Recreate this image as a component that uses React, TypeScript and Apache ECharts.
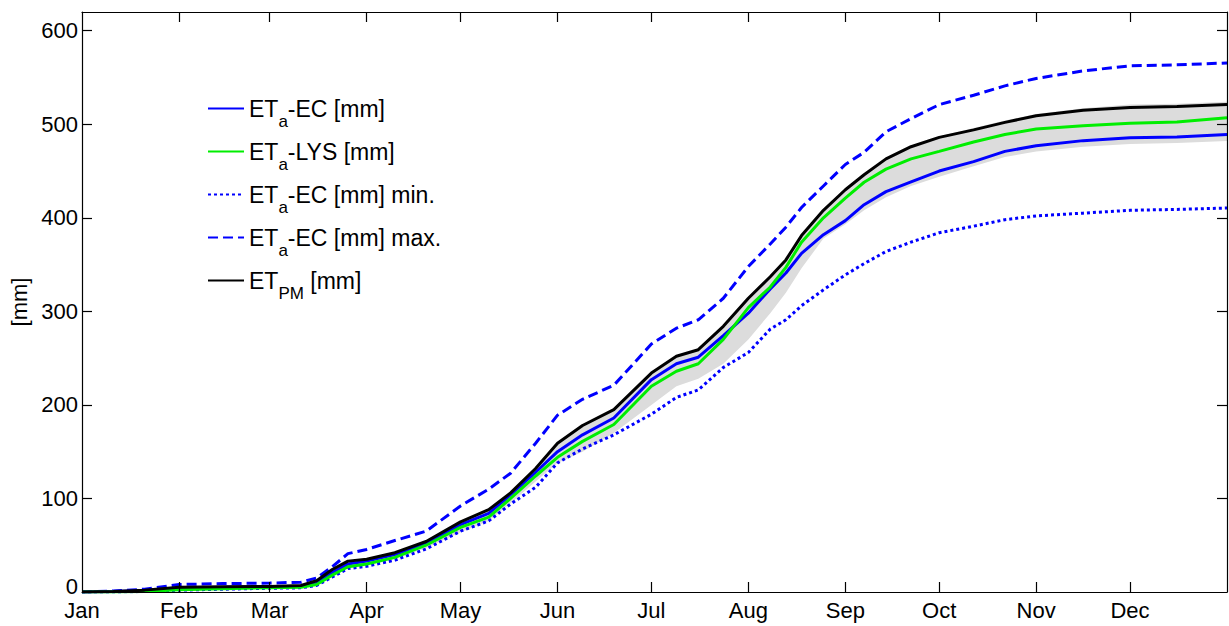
import React, { useEffect, useRef } from 'react';
import * as echarts from 'echarts';

// Day of year (leap year, 0 = 1 Jan)
const days = [0, 10, 20, 31, 45, 60, 70, 75, 80, 85, 91, 100, 110, 121, 130, 137, 145, 152, 160, 170, 182, 190, 197, 205, 213, 220, 225, 230, 237, 244, 250, 257, 265, 274, 285, 295, 305, 320, 335, 350, 366];

const etPM = [0, 0.5, 2, 5, 5.5, 6, 7, 12, 24, 33, 35, 42, 54, 75, 88, 106, 132, 159, 178, 195, 234, 252, 259, 284, 314, 337, 355, 381, 408, 430, 446, 463, 476, 486, 494, 502, 509, 515, 518, 519, 521];
const etLYS = [0, 0, 0.5, 2.5, 3.5, 4.5, 5, 8, 18, 27, 30, 37, 50, 69, 80, 100, 124, 144, 161, 179, 220, 236, 244, 270, 304, 326, 347, 374, 400, 421, 438, 452, 463, 471, 481, 489, 495, 498.5, 501, 502.5, 507];
const etEC = [0, 0.5, 1.5, 4, 5, 5.5, 6, 9, 21, 30, 33, 40, 52, 72, 84, 104, 128, 150, 168, 186, 227, 244, 251, 274, 298, 324, 341, 362, 382, 397, 414, 428, 438.5, 450, 460, 471, 477, 482.5, 485.5, 486.5, 489];
const ecMin = [0, 0, 0.5, 2, 3, 4, 4.5, 7, 16, 25, 27.5, 34, 46, 65, 76, 94, 112, 138, 153, 168, 190, 208, 216, 240, 256, 281, 291, 306, 323, 339, 351, 364, 374, 384, 391, 398, 402, 405, 408, 409, 410.5];
const ecMax = [0, 1, 3, 8, 9, 9.5, 10.5, 15, 27, 41, 45.5, 55, 65, 92, 110, 127, 159, 189, 206, 221, 265, 282, 291, 314, 348, 372, 390, 411, 434, 457, 470, 492, 506, 521, 531, 541, 549, 557, 562.5, 563.5, 565.5];
const bandLow = [0, 0, 0.5, 2, 3, 4, 4.5, 7, 16, 25, 28, 35, 47, 64, 76, 95, 118, 138, 150, 170, 200, 220, 228, 244, 270, 298, 320, 346, 378, 393, 408, 422, 434, 444, 455, 465, 471, 476, 479, 480, 482];
const bandHigh = [0, 0.5, 2, 5, 5.5, 6, 7, 12, 24, 33, 35, 42, 54, 75, 88, 106, 132, 159, 178, 195, 234, 252, 259, 284, 314, 337, 355, 381, 408, 430, 446, 463, 476, 487, 496, 504, 511, 517, 521, 522, 524];

const monthStarts = [0, 31, 60, 91, 121, 152, 182, 213, 244, 274, 305, 335];
const monthNames = ['Jan', 'Feb', 'Mar', 'Apr', 'May', 'Jun', 'Jul', 'Aug', 'Sep', 'Oct', 'Nov', 'Dec'];
const yTicks = [0, 100, 200, 300, 400, 500, 600];

const seriesNames = ['ETa-EC [mm]', 'ETa-LYS [mm]', 'ETa-EC [mm] min.', 'ETa-EC [mm] max.', 'ETPM [mm]'];
const legendRich: Record<string, string> = {
  'ETa-EC [mm]': '{n|ET}{s|a}{n|-EC [mm]}',
  'ETa-LYS [mm]': '{n|ET}{s|a}{n|-LYS [mm]}',
  'ETa-EC [mm] min.': '{n|ET}{s|a}{n|-EC [mm] min.}',
  'ETa-EC [mm] max.': '{n|ET}{s|a}{n|-EC [mm] max.}',
  'ETPM [mm]': '{n|ET}{s|PM}{n| [mm]}',
};

const pairs = (ys: number[]) => days.map((d, i) => [d, ys[i]]);

export default function App() {
  const ref = useRef<HTMLDivElement>(null);
  useEffect(() => {
    const chart = echarts.init(ref.current!, null, { renderer: 'svg' });
    const font = 'Liberation Sans, Arial, Helvetica, sans-serif';
    const axisLine = { show: true, onZero: false, lineStyle: { color: '#000', width: 1.2 } };
    const tick = (vals: number[]) => ({ show: true, inside: true, length: 10, customValues: vals, lineStyle: { color: '#000', width: 1.2 } });
    const line = (name: string, ys: number[], color: string, type: any) => ({
      name, type: 'line', data: pairs(ys), symbol: 'none', showSymbol: false,
      lineStyle: { color, width: 3, type }, itemStyle: { color }, z: 3,
    });
    chart.setOption({
      animation: false,
      backgroundColor: '#fff',
      grid: { left: 82, right: 2, top: 12, bottom: 34, containLabel: false },
      legend: {
        data: seriesNames,
        orient: 'vertical',
        left: 207,
        top: 87,
        padding: 0,
        itemGap: 0,
        itemWidth: 36,
        itemHeight: 14,
        itemStyle: { opacity: 0, borderWidth: 0 },
        formatter: (n: string) => legendRich[n],
        textStyle: {
          color: '#000',
          fontFamily: font,
          rich: {
            n: { fontSize: 23, fontFamily: font, color: '#000', lineHeight: 40, verticalAlign: 'middle' },
            s: { fontSize: 17, fontFamily: font, color: '#000', lineHeight: 14, verticalAlign: 'middle', padding: [26, 0, 0, 0] },
          },
        },
      },
      xAxis: [
        {
          type: 'value', min: 0, max: 366, position: 'bottom', z: 10,
          axisLine, axisTick: tick(monthStarts.slice(1)),
          axisLabel: {
            show: true, customValues: monthStarts, margin: 7, color: '#000', fontSize: 22, fontFamily: font,
            formatter: (v: number) => { const i = monthStarts.indexOf(v); return i >= 0 ? monthNames[i] : ''; },
          },
          splitLine: { show: false },
        },
        {
          type: 'value', min: 0, max: 366, position: 'top', z: 10,
          axisLine, axisTick: tick(monthStarts.slice(1)), axisLabel: { show: false }, splitLine: { show: false },
        },
      ],
      yAxis: [
        {
          type: 'value', min: 0, max: 620, position: 'left', z: 10,
          name: '[mm]', nameLocation: 'middle', nameGap: 44,
          nameTextStyle: { fontSize: 22, color: '#000', fontFamily: font },
          axisLine, axisTick: tick(yTicks.slice(1)),
          axisLabel: {
            customValues: yTicks, margin: 4, color: '#000', fontSize: 22, fontFamily: font,
            formatter: (v: number) => (v === 0 ? '{z|0}' : String(v)),
            rich: { z: { fontSize: 22, fontFamily: font, color: '#000', padding: [0, 0, 12, 0] } },
          },
          splitLine: { show: false },
        },
        {
          type: 'value', min: 0, max: 620, position: 'right', z: 10,
          axisLine, axisTick: tick(yTicks.slice(1)), axisLabel: { show: false }, splitLine: { show: false },
        },
      ],
      series: [
        {
          name: 'band', type: 'custom', silent: true, z: 1,
          data: days.map((d, i) => [d, bandLow[i], bandHigh[i]]),
          encode: { x: 0, y: [1, 2] },
          renderItem: (params: any, api: any) => {
            if (params.dataIndex !== 0) return null;
            const pts: number[][] = [];
            for (let i = 0; i < days.length; i++) pts.push(api.coord([days[i], bandHigh[i]]));
            for (let i = days.length - 1; i >= 0; i--) pts.push(api.coord([days[i], bandLow[i]]));
            return { type: 'polygon', shape: { points: pts }, style: { fill: '#dcdcdc' } };
          },
        },
        line('ETa-EC [mm] min.', ecMin, '#0000ff', [3, 3]),
        line('ETa-EC [mm] max.', ecMax, '#0000ff', [10, 5]),
        line('ETa-EC [mm]', etEC, '#0000ff', 'solid'),
        line('ETa-LYS [mm]', etLYS, '#00ee00', 'solid'),
        line('ETPM [mm]', etPM, '#000000', 'solid'),
      ],
    });
    return () => chart.dispose();
  }, []);
  return <div ref={ref} style={{ position: 'fixed', left: 0, top: 0, width: 1229, height: 626, background: '#fff' }} />;
}
